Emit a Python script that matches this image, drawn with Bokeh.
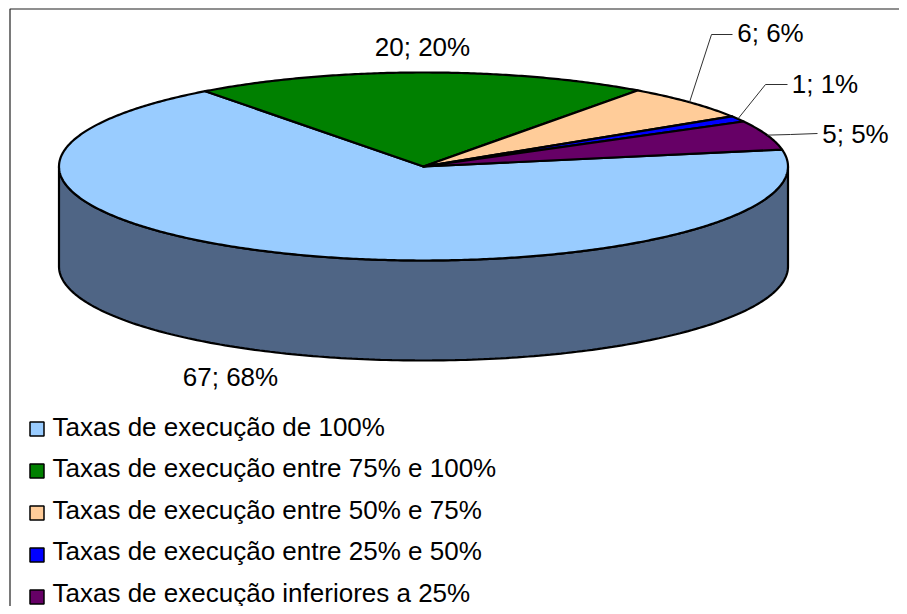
import numpy as np
from bokeh.plotting import figure
from bokeh.models import Range1d
from bokeh.core.properties import value
from bokeh.embed import file_html
from bokeh.resources import INLINE

categories = ["Taxas de execução de 100%", "Taxas de execução entre 75% e 100%",
              "Taxas de execução entre 50% e 75%", "Taxas de execução entre 25% e 50%",
              "Taxas de execução inferiores a 25%"]
values = [67, 20, 6, 1, 5]
slice_labels = ["67; 68%", "20; 20%", "6; 6%", "1; 1%", "5; 5%"]
colors = ["#99CCFF", "#008000", "#FFCC99", "#0000FF", "#660066"]
side_color = "#4F6585"

FONT = "Liberation Sans"
CX, CY, RX, RY, DEPTH = 423.0, 166.0, 364.5, 94.0, 100.0
START = 79.6


def ex(t):
    return CX + RX * np.sin(np.radians(t))


def ey(t):
    return CY - RY * np.cos(np.radians(t))


p = figure(width=899, height=606, output_backend="svg", toolbar_location=None,
           x_range=Range1d(0, 899), y_range=Range1d(606, 0), min_border=0,
           x_axis_type=None, y_axis_type=None, background_fill_color="white",
           border_fill_color="white", outline_line_color=None)
p.xgrid.visible = False
p.ygrid.visible = False

# chart frame (left and top edges are what the reference shows)
p.line([9.5, 9.5, 899], [606, 8.5, 8.5], line_color="#202020", line_width=1.2)

# slice angles from the data
total = sum(values)
sweeps = [v / total * 360 for v in values]
starts = START + np.concatenate([[0], np.cumsum(sweeps)[:-1]])
ends = starts + np.array(sweeps)
mids = (starts + ends) / 2

# cylinder side: visible lower half of the ellipse
ts = np.linspace(90, 270, 200)
sx = np.concatenate([ex(ts), ex(ts[::-1])])
sy = np.concatenate([ey(ts), ey(ts[::-1]) + DEPTH])
p.patch(sx, sy, fill_color=side_color, line_color="black", line_width=2.2)

# top face
xs, ys = [], []
for a, b in zip(starts, ends):
    t = np.linspace(a, b, max(int(b - a) * 2, 8))
    xs.append(np.concatenate([[CX], ex(t), [CX]]))
    ys.append(np.concatenate([[CY], ey(t), [CY]]))
p.patches(xs, ys, fill_color=colors, line_color="black", line_width=2.2, line_join="round")

# leader lines from small slices to their labels
elbows = {2: ((711, 34), (732, 34)), 3: ((765, 84), (787, 84)), 4: ((790, 134), (817, 133))}
lx, ly = [], []
for i, ((x1, y1), (x2, y2)) in elbows.items():
    lx.append([ex(mids[i]), x1, x2])
    ly.append([ey(mids[i]), y1, y2])
p.multi_line(lx, ly, line_color="#303030", line_width=1)

# data labels
label_x = [230, 422, 770, 824.5, 855]
label_y = [376, 46, 32, 83, 133]
p.text(label_x, label_y, text=slice_labels, text_font=value(FONT), text_font_size="26px",
       text_color="black", text_align="center", text_baseline="middle")

# legend
leg_y = [428.5 + 42 * i for i in range(len(categories))]
text_y = [426 + 41.5 * i for i in range(len(categories))]
p.rect([36.5] * len(categories), leg_y, width=14, height=14, fill_color=colors,
       line_color="black", line_width=1.5)
p.text([52] * len(categories), text_y, text=categories, text_font=value(FONT), text_font_size="26px",
       text_color="black", text_align="left", text_baseline="middle")

open("out.html", "w").write(file_html(p, INLINE))
